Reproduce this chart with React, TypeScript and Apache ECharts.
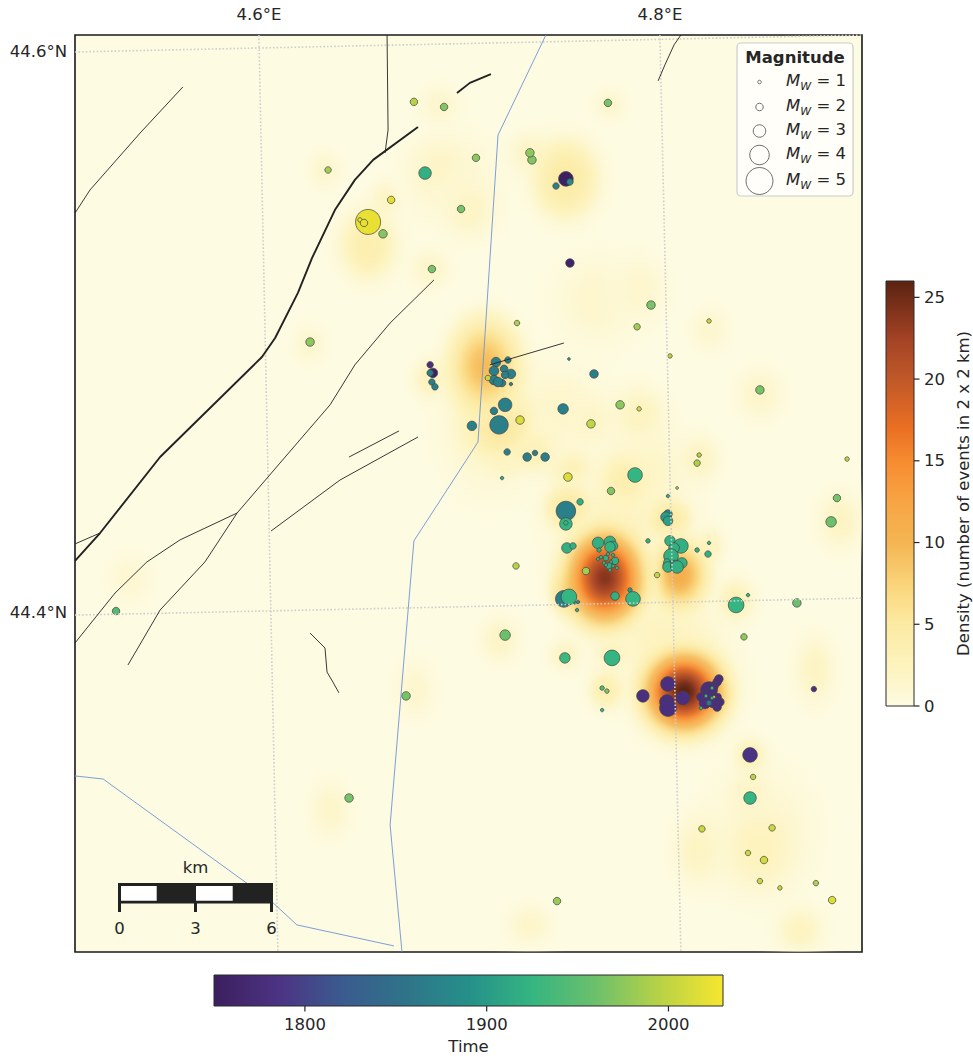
import React, { useEffect, useRef } from "react";
import * as echarts from "echarts";

const FONT = "DejaVu Sans";
const INK = "#262626";
const FS = 16.5;

// Map extent in km (scale bar: 6 km)
const mapWidthKm = 31.07;
const mapHeightKm = 36.2;
const lonTicks: [number, string][] = [[7.26, "4.6°E"], [23.09, "4.8°E"]];
const latTicks: [number, string][] = [[35.53, "44.6°N"], [13.42, "44.4°N"]];

const timeMin = 1750;
const timeMax = 2030;
const timeTicks = [1800, 1900, 2000];
const timeColors = ["#3b1f5e", "#4c3283", "#3b5a8f", "#2f7389", "#25908a", "#35b581", "#6cc06c", "#b8d246", "#f6e62f"];

const densityMax = 26;
const densityTicks = [0, 5, 10, 15, 20, 25];
const densityStopValues = [0, 1, 2.5, 5, 7, 10, 12.5, 15, 17, 20, 22.5, 25, 26];
const densityStopColors = ["#fdfbe2", "#fdf7d2", "#fdf3bd", "#fceaa3", "#fbd981", "#f4b552", "#f8a444", "#f68c30", "#ea6f23", "#c05828", "#a34225", "#6f2c17", "#5a2310"];

const legendMagnitudes = [1, 2, 3, 4, 5];
const legendDiameters = [3.5, 7.5, 12.5, 19.5, 27];
const scaleBarLabels = ["0", "3", "6"];

// [x km, y km, Mw, year]
const eventsWest = [
  [14.02, 23.18, 1.75, 1780], [14.13, 22.86, 2.4, 1755], [14.02, 22.86, 1.75, 1865], [14.09, 22.5, 1.75, 1870], [14.21, 22.31, 1.75, 1870],
  [16.62, 23.29, 2.4, 1870], [17.09, 23.37, 1.75, 1870], [16.94, 23.02, 2.0, 1870], [16.54, 22.94, 2.4, 1870], [16.3, 22.66, 1.5, 2005],
  [17.21, 22.82, 2.4, 1870], [16.98, 22.78, 2.0, 1870], [16.54, 22.58, 2.4, 1870], [16.86, 22.46, 2.0, 1870], [16.7, 22.5, 2.4, 1870],
  [17.21, 22.42, 1.0, 1870], [16.98, 21.6, 3.15, 1870], [16.54, 21.36, 2.0, 1870], [16.74, 20.81, 3.85, 1870], [15.67, 20.77, 2.4, 1870],
  [17.57, 21.0, 2.2, 2015], [17.06, 19.74, 1.75, 1870], [17.85, 19.54, 2.2, 1870], [18.16, 19.7, 1.5, 1870], [18.56, 19.54, 2.2, 1870],
  [16.86, 18.71, 1.0, 1915], [19.46, 18.75, 2.2, 2015], [19.94, 17.77, 1.75, 1920], [19.27, 21.44, 2.6, 1870], [20.49, 22.82, 2.2, 1870],
  [19.5, 23.41, 0.8, 1900], [21.52, 21.6, 2.2, 1975], [22.27, 21.44, 1.25, 2010], [20.37, 20.85, 2.2, 2000], [22.11, 18.83, 3.3, 1925],
  [21.16, 18.2, 2.0, 1970], [19.38, 17.41, 4.0, 1870], [19.38, 16.9, 3.0, 1925], [19.38, 16.94, 1.25, 1925],
];
const eventsCentre = [
  [23.77, 18.32, 0.8, 1985], [23.41, 18.0, 1.0, 1915], [23.33, 17.17, 2.6, 1900], [23.41, 17.29, 2.2, 1885], [23.41, 17.02, 2.4, 1905],
  [20.65, 16.15, 2.8, 1920], [21.12, 16.19, 2.8, 1920], [21.24, 16.03, 2.4, 1920], [21.12, 15.99, 2.6, 1922], [20.69, 15.87, 1.25, 1920],
  [19.42, 15.95, 2.6, 1920], [19.66, 16.03, 1.75, 1920], [22.62, 16.23, 1.25, 1920], [23.49, 16.23, 2.6, 1920], [23.92, 16.03, 3.3, 1920],
  [23.65, 15.95, 2.6, 1920], [23.53, 15.63, 3.3, 1920], [23.96, 15.36, 2.6, 1920], [23.41, 15.28, 2.4, 1920], [23.37, 15.4, 1.75, 1920],
  [23.41, 15.2, 2.6, 1920], [23.69, 15.28, 2.4, 1920], [23.77, 15.2, 3.0, 1920], [24.56, 15.87, 1.25, 1920], [25.03, 16.15, 1.0, 1920],
  [24.99, 15.71, 1.75, 1920], [22.98, 14.88, 1.5, 2000], [20.17, 15.04, 2.0, 1985], [20.96, 15.55, 1.5, 1920], [20.77, 15.59, 1.0, 1920],
  [20.65, 15.51, 1.0, 1920], [21.24, 15.67, 1.0, 1920], [21.04, 15.71, 1.0, 1920], [21.32, 15.44, 2.0, 1920], [20.88, 15.36, 1.0, 1920],
  [21.16, 15.4, 1.0, 1920], [21.08, 15.24, 1.75, 1920], [20.96, 15.28, 1.0, 1920], [21.4, 15.16, 1.0, 1920], [21.12, 15.08, 1.0, 1920],
  [21.24, 15.24, 1.0, 1920], [21.91, 14.29, 1.25, 1900], [21.32, 14.05, 2.2, 1920], [22.03, 13.94, 3.3, 1925], [19.3, 13.94, 3.6, 1870],
  [19.5, 14.02, 3.45, 1925], [19.86, 13.82, 1.0, 1890], [19.74, 13.78, 0.8, 1905], [19.82, 13.5, 1.0, 1915], [26.1, 13.7, 3.45, 1925],
  [26.57, 14.09, 1.0, 1925], [26.41, 12.44, 1.75, 1975],
];
const eventsSouthCluster = [
  [23.41, 10.58, 3.3, 1780], [22.42, 10.11, 3.0, 1780], [23.37, 9.87, 3.3, 1780], [23.41, 9.63, 3.6, 1780], [24.0, 10.03, 3.15, 1780],
  [25.03, 10.34, 3.6, 1780], [24.99, 10.03, 3.6, 1780], [25.42, 10.78, 2.2, 1780], [25.35, 10.66, 2.2, 1780], [25.23, 10.5, 2.2, 1780],
  [25.15, 10.38, 2.4, 1780], [24.71, 10.07, 2.2, 1780], [25.46, 9.87, 2.2, 1780], [25.35, 9.67, 2.2, 1780], [25.38, 10.07, 1.9, 1780],
  [25.19, 9.87, 2.8, 1780], [24.87, 9.83, 2.8, 1780], [25.03, 9.83, 1.5, 1860], [25.15, 10.42, 1.0, 1925], [24.91, 10.11, 1.0, 1925],
  [25.15, 10.03, 1.0, 1925], [24.71, 9.63, 1.0, 1925], [25.23, 10.07, 0.8, 2000], [26.65, 7.78, 3.3, 1785],
];
const eventsScattered = [
  [13.38, 33.56, 2.0, 1995], [14.57, 33.36, 2.0, 1970], [21.04, 33.52, 2.0, 1965], [9.99, 30.87, 1.75, 1985], [13.82, 30.75, 3.0, 1920],
  [15.83, 31.35, 2.0, 1975], [17.96, 31.55, 2.2, 1975], [18.04, 31.27, 2.2, 1970], [19.38, 30.52, 3.3, 1755], [19.54, 30.4, 1.75, 1880],
  [18.99, 30.24, 1.75, 1870], [15.24, 29.33, 2.0, 1965], [12.48, 29.69, 2.0, 2018], [11.57, 28.82, 4.75, 2022], [11.25, 28.9, 1.25, 2022],
  [11.41, 28.78, 2.0, 2022], [12.16, 28.35, 2.2, 1970], [19.54, 27.2, 2.2, 1760], [14.09, 26.96, 2.0, 1965], [22.74, 25.54, 2.2, 1965],
  [17.45, 24.83, 1.5, 1990], [22.19, 24.68, 1.75, 1985], [25.03, 24.91, 1.25, 2005], [9.28, 24.08, 2.2, 1975], [23.49, 23.53, 1.25, 2000],
  [27.04, 22.19, 2.2, 1965], [24.64, 19.62, 1.25, 1995], [24.56, 19.3, 1.75, 1990], [30.48, 19.46, 1.25, 2000], [30.08, 17.92, 2.0, 1965],
  [29.85, 16.98, 2.6, 1960], [17.41, 15.24, 1.75, 1995], [1.62, 13.46, 2.0, 1945], [16.98, 12.51, 2.6, 1960], [19.34, 11.61, 2.6, 1930],
  [21.2, 11.61, 3.45, 1925], [28.5, 13.78, 2.2, 1960], [13.07, 10.11, 2.2, 1965], [20.81, 10.42, 1.25, 1945], [21.0, 10.3, 1.25, 1970],
  [20.81, 9.55, 1.0, 1930], [29.17, 10.38, 1.5, 1780], [26.77, 6.91, 1.5, 1995], [26.65, 6.08, 3.0, 1925], [10.82, 6.08, 2.2, 1965],
  [24.75, 4.86, 1.75, 2005], [27.52, 4.9, 1.75, 2005], [26.57, 3.91, 1.5, 2005], [27.2, 3.63, 2.0, 2010], [27.04, 2.8, 1.5, 2005],
  [27.83, 2.53, 1.25, 2005], [29.25, 2.72, 1.5, 1990], [29.89, 2.05, 2.0, 2015], [19.03, 2.01, 2.0, 1980],
];

// density patches: [x km, y km, radius x km, radius y km, peak density]
const broadDensityPatches = [
  [19.15, 21.0, 4.4, 4.4, 2.0], [22.3, 19.0, 4.0, 3.8, 2.6], [20.7, 25.7, 3.8, 3.8, 1.4], [14.8, 30.5, 3.8, 3.8, 1.6],
  [23.1, 12.3, 5.0, 4.4, 3.0], [21.5, 17.0, 5.0, 3.8, 3.5], [27.0, 4.8, 4.4, 5.0, 1.8], [16.4, 21.0, 3.8, 5.6, 2.6],
  [20.9, 14.8, 3.3, 3.7, 6.0], [24.05, 10.3, 3.4, 3.4, 6.0],
];
const localDensityPatches = [
  [2.17, 14.72, 1.98, 2.23, 1.0], [10.07, 5.61, 1.72, 2.46, 1.5], [13.43, 10.34, 1.72, 2.46, 1.3], [16.78, 12.32, 1.72, 1.98, 1.8],
  [17.96, 1.07, 1.88, 1.72, 1.5], [28.62, 0.87, 1.98, 1.98, 2.2], [27.04, 4.03, 2.96, 3.45, 2.5], [24.67, 4.03, 2.23, 2.96, 2.2],
  [29.21, 11.13, 1.72, 2.96, 2.0], [26.65, 6.24, 1.72, 2.46, 2.0], [30.22, 17.0, 1.98, 2.46, 2.0], [27.04, 22.0, 1.98, 2.23, 1.5],
  [24.67, 19.46, 1.72, 1.98, 2.0], [22.3, 21.24, 2.23, 2.46, 2.2], [22.3, 26.14, 2.23, 2.71, 1.3], [25.07, 24.57, 1.72, 1.98, 1.2],
  [21.12, 33.44, 1.48, 1.48, 1.2], [9.87, 30.87, 1.48, 1.72, 1.2], [9.28, 23.97, 1.48, 1.72, 1.2], [14.41, 33.44, 1.72, 1.72, 1.3],
  [14.41, 30.87, 2.46, 2.46, 1.8], [15.6, 29.29, 2.23, 2.46, 1.8], [17.96, 31.55, 1.72, 1.72, 2.0], [19.38, 30.52, 2.5, 3.0, 4.8],
  [11.57, 27.9, 2.3, 2.8, 3.8], [12.24, 29.69, 1.25, 1.48, 2.0], [14.02, 26.96, 1.72, 1.72, 1.5], [14.02, 22.62, 1.48, 1.72, 2.5],
  [16.18, 23.12, 2.4, 3.2, 9.5], [16.66, 21.0, 2.4, 2.6, 6.5], [17.96, 19.82, 1.98, 1.72, 3.5], [16.98, 19.42, 1.48, 1.48, 3.0],
  [19.54, 19.03, 1.98, 1.72, 3.0], [21.71, 18.63, 1.98, 1.98, 3.8], [20.5, 21.0, 1.98, 1.98, 1.8], [19.46, 17.53, 1.72, 1.72, 5.0],
];
const peakDensityPatches = [
  [20.92, 14.77, 2.4, 2.9, 24.0], [19.5, 14.3, 1.18, 1.58, 9.0], [22.0, 14.3, 1.0, 1.38, 7.0], [23.86, 14.88, 1.9, 2.3, 11.0],
  [23.47, 17.05, 1.6, 1.6, 5.0], [26.1, 13.9, 1.6, 1.8, 3.0], [25.0, 16.0, 1.4, 1.6, 2.5], [20.97, 10.34, 1.4, 1.6, 3.5],
  [24.05, 10.27, 2.45, 2.45, 26.0], [25.27, 10.15, 1.18, 1.38, 7.0], [19.34, 11.73, 1.4, 1.4, 2.0], [21.2, 11.73, 1.4, 1.4, 2.5],
  [26.65, 7.78, 1.4, 1.4, 3.0],
];

const thickFaults = [
  [[0, 15.44], [0.99, 16.54], [3.36, 19.54], [7.38, 23.49], [7.9, 24.24], [8.8, 26.02], [9.36, 27.4], [10.26, 29.29], [11.05, 30.48], [11.77, 31.27], [13.54, 32.57]],
  [[15.08, 33.91], [15.59, 34.31], [16.42, 34.66]],
];
const thinFaults = [
  [[0, 29.17], [0.59, 30.08], [2.57, 32.33], [4.26, 34.15]],
  [[12.32, 36.2], [12.36, 32.45], [12.24, 31.54]],
  [[0, 16.11], [0.99, 16.54]],
  [[0, 12.2], [1.58, 14.17], [2.84, 15.4], [4.15, 16.27], [6.4, 17.33], [8.09, 19.3], [10.07, 21.6], [11.05, 23.18], [12.44, 24.83], [14.17, 26.53]],
  [[2.09, 11.33], [3.36, 13.5], [5.13, 15.4], [6.4, 17.33]],
  [[7.74, 16.62], [10.46, 18.63], [13.54, 20.33]],
  [[10.82, 19.54], [12.79, 20.57]],
  [[16.38, 23.18], [19.3, 24.04]],
  [[9.28, 12.59], [9.87, 12.0], [9.95, 11.05], [10.18, 10.66], [10.42, 10.23]],
  [[23.02, 34.39], [23.29, 35.02], [23.65, 35.81], [23.92, 36.2]],
];
const rivers = [
  [[18.59, 36.2], [16.7, 32.25], [15.91, 20.13], [13.38, 16.23], [12.44, 5.01], [12.91, 0]],
  [[0, 6.95], [1.11, 6.83], [7.7, 2.05], [8.76, 1.07], [12.59, 0.24]],
];
const graticule = [
  [[7.26, 36.2], [8.01, 0]],
  [[23.09, 36.2], [23.92, 0]],
  [[0, 35.53], [31.07, 36.2]],
  [[0, 13.3], [31.07, 13.97]],
];

function lerp(xs: number[], ys: number[], x: number) {
  if (x <= xs[0]) return ys[0];
  for (let i = 1; i < xs.length; i++) {
    if (x <= xs[i]) return ys[i - 1] + ((ys[i] - ys[i - 1]) * (x - xs[i - 1])) / (xs[i] - xs[i - 1]);
  }
  return ys[ys.length - 1];
}
const sizeOf = (mw: number) => (mw < 1 ? 3.5 * mw : lerp(legendMagnitudes, legendDiameters, mw));

function hexRgb(h: string) {
  return [parseInt(h.slice(1, 3), 16), parseInt(h.slice(3, 5), 16), parseInt(h.slice(5, 7), 16)];
}
function densityRgb(d: number) {
  const rgbs = densityStopColors.map(hexRgb);
  return [0, 1, 2].map((k) => Math.round(lerp(densityStopValues, rgbs.map((c) => c[k]), d)));
}
function patchStops(peak: number) {
  const stops: { offset: number; color: string }[] = [];
  for (let i = 0; i <= 14; i++) {
    const t = i / 14;
    const d = peak * Math.exp(-((t * 2.4) ** 2) / 2);
    const c = densityRgb(d);
    const a = i === 14 ? 0 : Math.min(1, (d / Math.min(peak, 3)) * 1.1) * (1 - t * t * t);
    stops.push({ offset: t, color: `rgba(${c[0]},${c[1]},${c[2]},${a.toFixed(3)})` });
  }
  return stops;
}

const lineSeries = (lines: number[][][], style: any) =>
  lines.map((data) => ({
    type: "line",
    data,
    xAxisIndex: 0,
    yAxisIndex: 0,
    showSymbol: false,
    symbol: "none",
    silent: true,
    clip: true,
    lineStyle: style,
  }));

function staticGraphics() {
  const legendY = [82, 107, 131, 155, 181];
  const legendGraphics: any[] = [
    { type: "rect", z: 50, shape: { x: 737, y: 43, width: 116, height: 153, r: 4 }, style: { fill: "rgba(255,255,255,0.8)", stroke: "#cccccc", lineWidth: 1.2 } },
    { type: "text", z: 51, x: 795, y: 57, style: { text: "Magnitude", font: `bold ${FS}px '${FONT}'`, fill: INK, align: "center", verticalAlign: "middle" } },
  ];
  legendMagnitudes.forEach((m, i) => {
    legendGraphics.push({
      type: "circle",
      z: 51,
      shape: { cx: 759.5, cy: legendY[i], r: legendDiameters[i] / 2 },
      style: { fill: "rgba(255,255,255,0.3)", stroke: "#333", lineWidth: 0.7 },
    });
    legendGraphics.push({
      type: "text",
      z: 51,
      x: 846,
      y: legendY[i] - 1.5,
      style: {
        text: `{i|M}{s|W}{n| = ${m}}`,
        align: "right",
        verticalAlign: "middle",
        fill: INK,
        rich: {
          i: { font: `italic ${FS}px '${FONT}'`, fill: INK, lineHeight: 22, verticalAlign: "middle" },
          s: { font: `italic 11px '${FONT}'`, fill: INK, lineHeight: 14, verticalAlign: "bottom" },
          n: { font: `${FS}px '${FONT}'`, fill: INK, lineHeight: 22, verticalAlign: "middle" },
        },
      },
    });
  });

  const scaleGraphics: any[] = [
    { type: "rect", z: 50, shape: { x: 118, y: 883, width: 155, height: 20.5 }, style: { fill: "#222" } },
    { type: "rect", z: 51, shape: { x: 121, y: 886, width: 35.7, height: 14.7 }, style: { fill: "#fff" } },
    { type: "rect", z: 51, shape: { x: 196, y: 886, width: 36.7, height: 14.7 }, style: { fill: "#fff" } },
    { type: "text", z: 51, x: 195.5, y: 867, style: { text: "km", font: `${FS}px '${FONT}'`, fill: INK, align: "center", verticalAlign: "middle" } },
  ];
  scaleBarLabels.forEach((label, i) => {
    const x = 119.5 + i * 76;
    scaleGraphics.push({ type: "rect", z: 50, shape: { x: x - 1.5, y: 903, width: 3, height: 9 }, style: { fill: "#222" } });
    scaleGraphics.push({ type: "text", z: 51, x, y: 928, style: { text: label, font: `${FS}px '${FONT}'`, fill: INK, align: "center", verticalAlign: "middle" } });
  });
  return [...legendGraphics, ...scaleGraphics];
}

function colourBarTicks(chart: echarts.ECharts) {
  const out: any[] = [];
  timeTicks.forEach((t) => {
    const p = chart.convertToPixel({ gridIndex: 1 }, [t, 0]) as number[];
    out.push({ type: "rect", z: 60, shape: { x: p[0] - 0.6, y: p[1], width: 1.2, height: 5.5 }, style: { fill: INK } });
  });
  densityTicks.forEach((t) => {
    const p = chart.convertToPixel({ gridIndex: 2 }, [1, t]) as number[];
    out.push({ type: "rect", z: 60, shape: { x: p[0], y: p[1] - 0.6, width: 5.5, height: 1.2 }, style: { fill: INK } });
  });
  return out;
}

function buildOption() {
  const events = [...eventsWest, ...eventsCentre, ...eventsSouthCluster, ...eventsScattered].sort((a, b) => a[3] - b[3]);
  const patches = [...broadDensityPatches, ...[...localDensityPatches, ...peakDensityPatches].sort((a, b) => a[4] - b[4])];
  const background = [
    {
      type: "custom",
      xAxisIndex: 0,
      yAxisIndex: 0,
      silent: true,
      clip: true,
      data: patches,
      encode: { x: 0, y: 1 },
      renderItem: (_: any, api: any) => {
        const c = api.coord([api.value(0), api.value(1)]);
        const s = api.size([api.value(2), api.value(3)]);
        return {
          type: "ellipse",
          shape: { cx: c[0], cy: c[1], rx: s[0], ry: s[1] },
          style: { fill: new echarts.graphic.RadialGradient(0.5, 0.5, 0.5, patchStops(api.value(4))) },
        };
      },
    },
  ];
  const timeBar = {
    type: "custom",
    xAxisIndex: 1,
    yAxisIndex: 1,
    silent: true,
    data: [[timeMin, 0, timeMax, 1]],
    renderItem: (_: any, api: any) => {
      const a = api.coord([api.value(0), api.value(1)]);
      const b = api.coord([api.value(2), api.value(3)]);
      return {
        type: "rect",
        shape: { x: a[0], y: b[1], width: b[0] - a[0], height: a[1] - b[1] },
        style: {
          stroke: "#2a2a2a",
          lineWidth: 1,
          fill: new echarts.graphic.LinearGradient(0, 0, 1, 0, timeColors.map((color, i) => ({ offset: i / (timeColors.length - 1), color }))),
        },
      };
    },
  };
  const densityBar = {
    type: "custom",
    xAxisIndex: 2,
    yAxisIndex: 2,
    silent: true,
    data: [[0, 0, 1, densityMax]],
    renderItem: (_: any, api: any) => {
      const a = api.coord([api.value(0), api.value(1)]);
      const b = api.coord([api.value(2), api.value(3)]);
      return {
        type: "rect",
        shape: { x: a[0], y: b[1], width: b[0] - a[0], height: a[1] - b[1] },
        style: {
          stroke: "#2a2a2a",
          lineWidth: 1,
          fill: new echarts.graphic.LinearGradient(0, 1, 0, 0, densityStopValues.map((v, i) => ({ offset: v / densityMax, color: densityStopColors[i] }))),
        },
      };
    },
  };
  const scatterIndex = 1 + graticule.length + rivers.length + thinFaults.length + thickFaults.length;

  return {
    animation: false,
    backgroundColor: "#ffffff",
    textStyle: { fontFamily: FONT },
    grid: [
      { left: 75, top: 35, width: 787, height: 917, show: true, backgroundColor: "#fdfbe2", borderColor: "#1a1a1a", borderWidth: 1.6, containLabel: false },
      { left: 214, top: 975, width: 509, height: 31 },
      { left: 886, top: 281, width: 28, height: 425 },
    ],
    xAxis: [
      {
        type: "value", gridIndex: 0, position: "top", min: 0, max: mapWidthKm,
        axisLine: { show: false, onZero: false }, axisTick: { show: false }, splitLine: { show: false },
        axisLabel: { customValues: lonTicks.map((t) => t[0]), formatter: (v: number) => lonTicks.find((t) => t[0] === v)?.[1] ?? "", color: INK, fontFamily: FONT, fontSize: FS, margin: 12 },
      },
      {
        type: "value", gridIndex: 1, position: "bottom", min: timeMin, max: timeMax,
        name: "Time", nameLocation: "middle", nameGap: 32, nameTextStyle: { color: INK, fontFamily: FONT, fontSize: FS },
        axisLine: { show: false, onZero: false }, splitLine: { show: false }, axisTick: { show: false },
        axisLabel: { customValues: timeTicks, color: INK, fontFamily: FONT, fontSize: FS, margin: 10, formatter: (v: number) => String(v) },
      },
      { type: "value", gridIndex: 2, min: 0, max: 1, show: false },
    ],
    yAxis: [
      {
        type: "value", gridIndex: 0, position: "left", min: 0, max: mapHeightKm,
        axisLine: { show: false, onZero: false }, axisTick: { show: false }, splitLine: { show: false },
        axisLabel: { customValues: latTicks.map((t) => t[0]), formatter: (v: number) => latTicks.find((t) => t[0] === v)?.[1] ?? "", color: INK, fontFamily: FONT, fontSize: FS, margin: 8 },
      },
      { type: "value", gridIndex: 1, min: 0, max: 1, show: false },
      {
        type: "value", gridIndex: 2, position: "right", min: 0, max: densityMax,
        name: "Density (number of events in 2 x 2 km)", nameLocation: "middle", nameRotate: 90, nameGap: 41,
        nameTextStyle: { color: INK, fontFamily: FONT, fontSize: FS },
        axisLine: { show: false, onZero: false }, splitLine: { show: false }, axisTick: { show: false },
        axisLabel: { customValues: densityTicks, color: INK, fontFamily: FONT, fontSize: FS, margin: 10, formatter: (v: number) => String(v) },
      },
    ],
    visualMap: [
      { type: "continuous", show: false, seriesIndex: scatterIndex, dimension: 3, min: timeMin, max: timeMax, inRange: { color: timeColors } },
    ],
    series: [
      ...background,
      ...lineSeries(graticule, { color: "#cdcdcd", width: 1.6, type: [1.6, 2] }),
      ...lineSeries(rivers, { color: "#6f93d6", width: 0.9 }),
      ...lineSeries(thinFaults, { color: "#222", width: 0.9 }),
      ...lineSeries(thickFaults, { color: "#222", width: 1.9 }),
      {
        type: "scatter",
        xAxisIndex: 0,
        yAxisIndex: 0,
        silent: true,
        data: events,
        symbolSize: (v: number[]) => sizeOf(v[2]),
        itemStyle: { borderColor: "#444", borderWidth: 0.7, opacity: 1 },
      },
      timeBar,
      densityBar,
    ],
    graphic: { elements: staticGraphics() },
  };
}

export default function App() {
  const ref = useRef<HTMLDivElement>(null);
  useEffect(() => {
    const chart = echarts.init(ref.current as HTMLDivElement, undefined, { renderer: "svg" });
    chart.setOption(buildOption() as any);
    chart.setOption({ graphic: { elements: [...staticGraphics(), ...colourBarTicks(chart)] } } as any);
    return () => chart.dispose();
  }, []);
  return <div ref={ref} style={{ position: "fixed", left: 0, top: 0, width: 973, height: 1057 }} />;
}
